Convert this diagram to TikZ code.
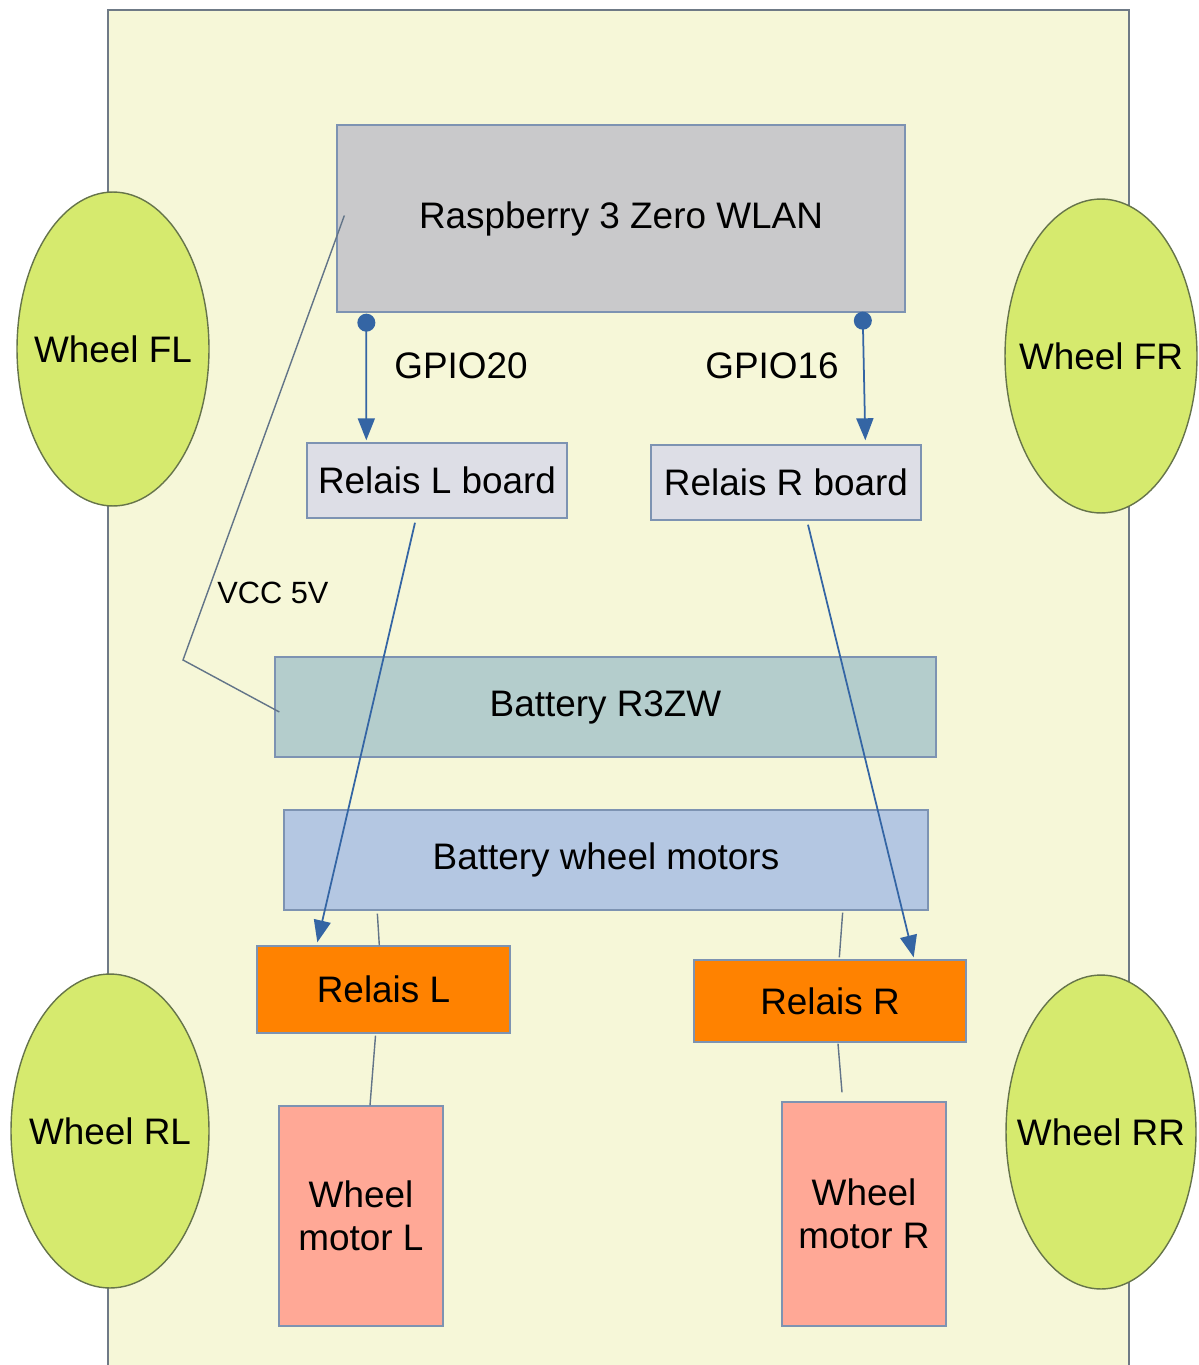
\documentclass[tikz,border=0pt]{standalone}
\usepackage{fontspec}
\setmainfont{Liberation Sans}
\usetikzlibrary{arrows.meta, calc, shapes.geometric}

\definecolor{chassis}{HTML}{F6F7D8}
\definecolor{rimline}{HTML}{6F7A86}
\definecolor{tyre}{HTML}{D6EA6E}
\definecolor{tyreline}{HTML}{66744A}
\definecolor{boxline}{HTML}{7D93B2}
\definecolor{pigrey}{HTML}{C9C9CB}
\definecolor{boardgrey}{HTML}{DDDEE6}
\definecolor{batgrey}{HTML}{B4CDCC}
\definecolor{batblue}{HTML}{B4C7E2}
\definecolor{relorange}{HTML}{FF8200}
\definecolor{motsalmon}{HTML}{FFA896}
\definecolor{sigblue}{HTML}{3465A4}
\definecolor{wiregrey}{HTML}{627488}

\tikzset{
  part/.style={shape=rectangle, draw=boxline, line width=0.8pt, inner sep=0pt, align=center},
  wheel/.style={shape=ellipse, draw=tyreline, fill=tyre, line width=0.8pt, inner sep=0pt,
    minimum width=3.84cm, minimum height=6.28cm},
  sig/.style={draw=sigblue, line width=1pt, -{Triangle[length=0.44cm, width=0.34cm]}},
  pin/.style={sig, {Circle[length=0.36cm]}-{Triangle[length=0.44cm, width=0.34cm]}},
  wire/.style={draw=wiregrey, line width=0.8pt}
}

\begin{document}
\begin{tikzpicture}[x=0.02cm, y=-0.02cm, font=\fontsize{21}{24.5}\selectfont]
	\useasboundingbox (0, 0) rectangle (1198, 1365);
	% Chassis, parts and wheels:
	\fill[chassis] (108, 10) rectangle (1129, 1365);
	\draw[rimline, line width=0.8pt] (108, 1365) -- (108, 10) -- (1129, 10) -- (1129, 1365);
	\node[wheel, label={center:Wheel FL}] (wFL) at (113, 349) {};
	\node[wheel, label={center:Wheel FR}] (wFR) at (1101, 356) {};
	\node[wheel, minimum width=3.96cm, label={center:Wheel RL}] (wRL) at (110, 1131) {};
	\node[wheel, minimum width=3.8cm, label={center:Wheel RR}] (wRR) at (1101, 1132) {};
	\node[part, fill=pigrey, minimum width=11.36cm, minimum height=3.74cm] (rpi) at (621, 218.5) {Raspberry 3 Zero WLAN};
	\node[part, fill=boardgrey, minimum width=5.2cm, minimum height=1.5cm] (relLb) at (437, 480.5) {Relais L board};
	\node[part, fill=boardgrey, minimum width=5.4cm, minimum height=1.5cm] (relRb) at (786, 482.5) {Relais R board};
	\node[part, fill=batgrey, minimum width=13.22cm, minimum height=2cm] (bat) at (605.5, 707) {Battery R3ZW};
	\node[part, fill=batblue, minimum width=12.88cm, minimum height=2cm] (bwm) at (606, 860) {Battery wheel motors};
	\node[part, fill=relorange, minimum width=5.06cm, minimum height=1.74cm] (relL) at (383.5, 989.5) {Relais L};
	\node[part, fill=relorange, minimum width=5.44cm, minimum height=1.64cm] (relR) at (830, 1001) {Relais R};
	\node[part, fill=motsalmon, minimum width=3.28cm, minimum height=4.4cm] (motL) at (361, 1216) {Wheel\\motor L};
	\node[part, fill=motsalmon, minimum width=3.28cm, minimum height=4.48cm] (motR) at (864, 1214) {Wheel\\motor R};
	\node (gpL) at (461, 366) {GPIO20};
	\node (gpR) at (772, 366) {GPIO16};
	\node[font=\fontsize{17.5}{20}\selectfont] (vcc) at (273, 593) {VCC 5V};
	\coordinate (vccbend) at (183, 660);
	% Signals and wires:
	\draw[pin] ($(rpi.south west)+(30, 1)$) -- ($(relLb.north west)+(60, -2)$);
	\draw[pin] ($(rpi.south east)+(-43, -1)$) -- ($(relRb.north west)+(215, -4)$);
	\draw[sig] ($(relLb.south)+(-22, 4)$) -- ($(relL.north west)+(61, -3)$);
	\draw[sig] ($(relRb.south)+(22, 4)$) -- ($(relR.north east)+(-53, -2)$);
	\draw[wire] ($(rpi.west)+(8, -3)$) -- (vccbend) -- ($(bat.west)+(5, 5)$);
	\draw[wire] ($(bwm.south west)+(94, 3)$) -- ($(relL.north west)+(123, 0)$);
	\draw[wire] ($(bwm.south east)+(-86, 2)$) -- ($(relR.north west)+(146, -2)$);
	\draw[wire] ($(relL.south)+(-8, 2)$) -- ($(motL.north)+(9, 0)$);
	\draw[wire] ($(relR.south)+(8, 1)$) -- ($(motR.north)+(-22, -9)$);
\end{tikzpicture}
\end{document}
